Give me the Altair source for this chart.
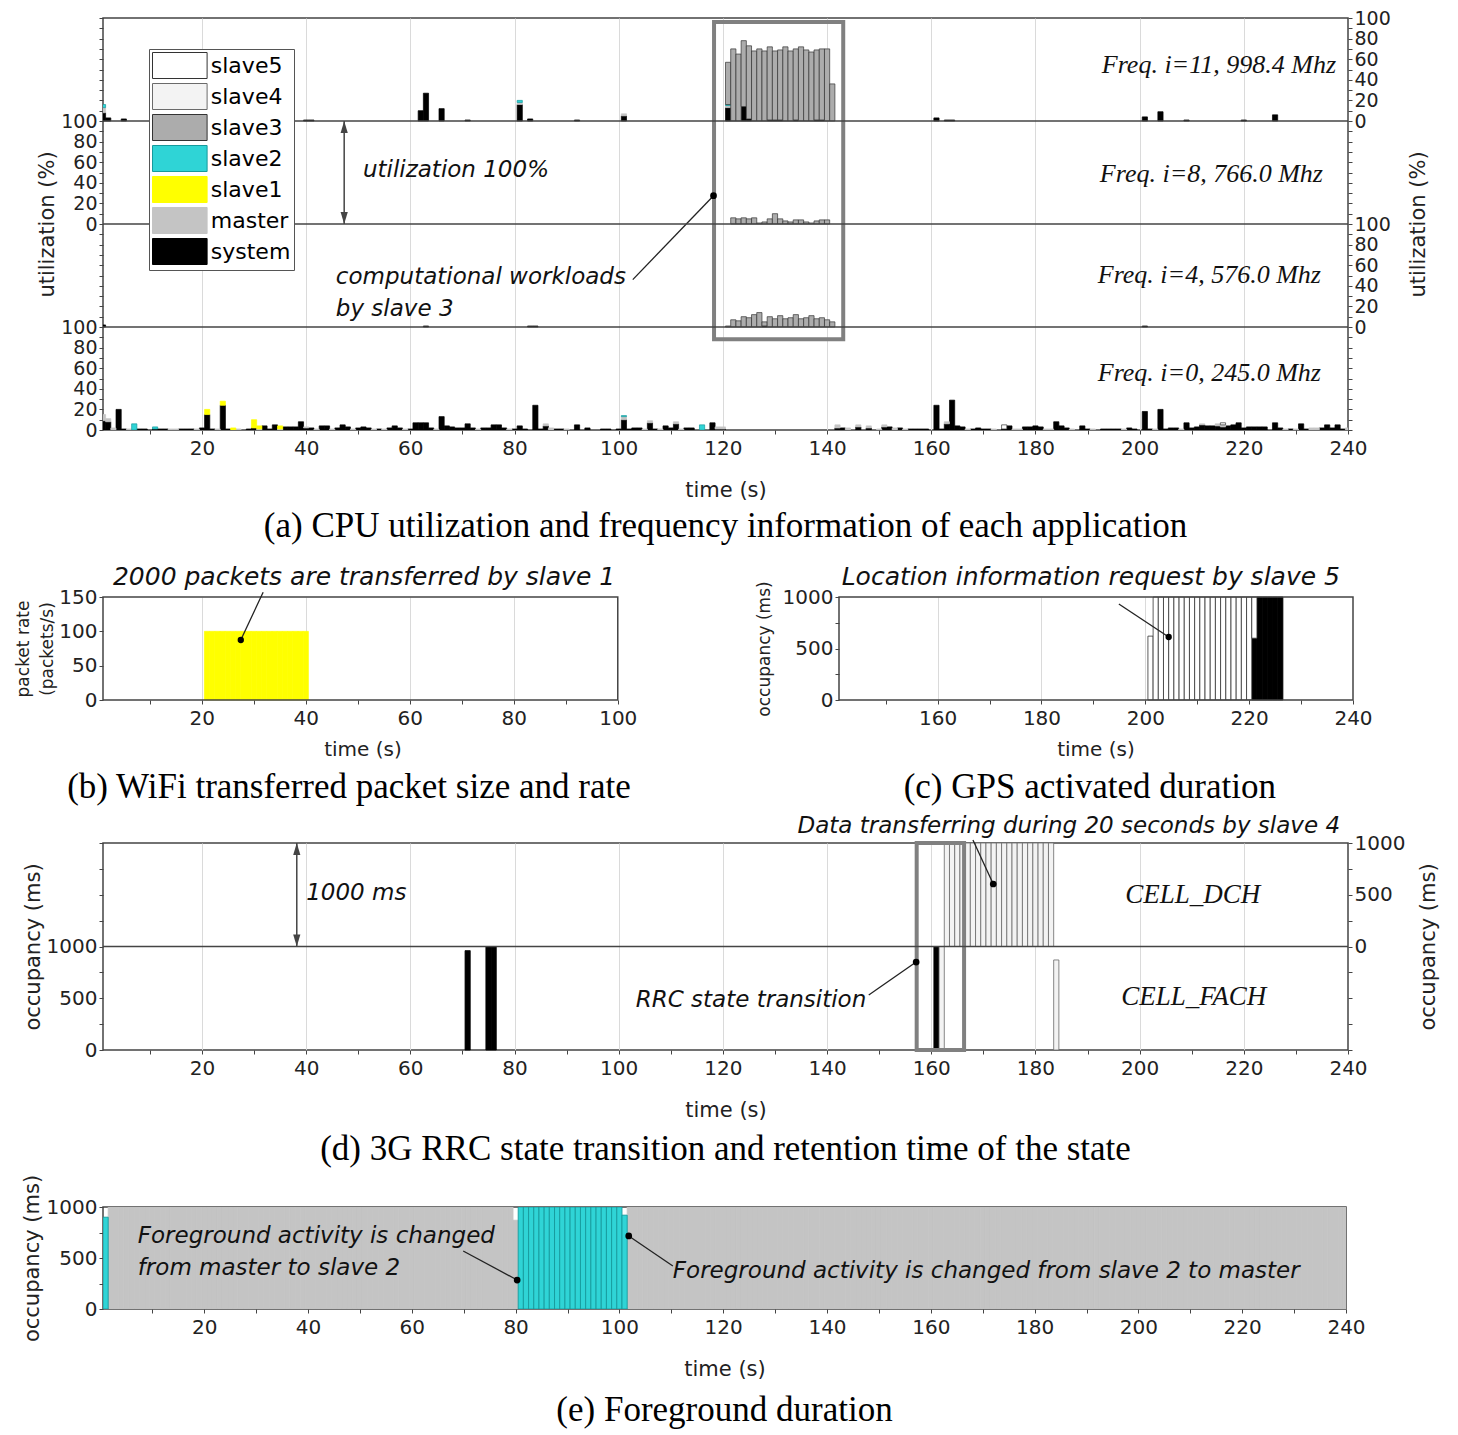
import altair as alt
import pandas as pd

FONT = "DejaVu Sans"
SERIF = "Liberation Serif"
INK = "#222222"
FRAME = "#444444"

SERIES = ["slave5", "slave4", "slave3", "slave2", "slave1", "master", "system"]
COLORS = ["#ffffff", "#f3f3f3", "#acacac", "#2fd4d6", "#ffff00", "#c4c4c4", "#000000"]
OUTLINES = ["#333333", "#6a6a6a", "#333333", "#169a9c", "#ffff00", "#c4c4c4", "#000000"]
STACK_ORDER = ["system", "master", "slave1", "slave2", "slave3", "slave4", "slave5"]

# ---------------- (a) CPU utilization, [second, %] per application ----------------
F0_SYSTEM = [[1, 9], [2, 8], [4, 20], [5, 1], [8, 1], [9, 1], [11, 1], [12, 1], [13, 1], [16, 1], [17, 1],
             [18, 1], [20, 2], [21, 15], [22, 1], [24, 24], [25, 1], [29, 1], [30, 2], [32, 4], [33, 1],
             [34, 5], [36, 3], [37, 3], [38, 3], [39, 8], [40, 2], [41, 2], [43, 4], [44, 4], [46, 2],
             [47, 5], [48, 3], [50, 2], [51, 3], [52, 2], [54, 1], [56, 2], [57, 4], [58, 2], [60, 1],
             [61, 7], [62, 7], [63, 7], [64, 2], [66, 13], [67, 4], [68, 3], [69, 2], [70, 2], [71, 6],
             [72, 2], [74, 2], [75, 2], [76, 5], [77, 5], [78, 2], [80, 1], [81, 4], [82, 1], [84, 24],
             [85, 1], [86, 4], [88, 1], [89, 1], [92, 5], [94, 2], [97, 1], [98, 1], [100, 1], [101, 10],
             [102, 1], [103, 2], [104, 2], [106, 7], [107, 1], [109, 4], [110, 2], [111, 6], [113, 2],
             [114, 2], [118, 7], [119, 1], [120, 1], [142, 2], [143, 2], [146, 3], [148, 2], [151, 3],
             [152, 3], [154, 2], [156, 1], [157, 1], [158, 1], [159, 1], [161, 24], [162, 1], [163, 6],
             [164, 29], [165, 4], [166, 3], [168, 1], [169, 2], [170, 1], [171, 1], [174, 1], [175, 4],
             [178, 3], [179, 3], [180, 4], [181, 3], [184, 8], [185, 4], [186, 2], [189, 4], [190, 1],
             [193, 1], [194, 1], [195, 1], [196, 1], [198, 2], [199, 1], [201, 18], [202, 1], [204, 20],
             [205, 1], [206, 2], [207, 2], [209, 7], [210, 2], [211, 3], [212, 5], [213, 4], [214, 4],
             [215, 4], [216, 3], [217, 4], [218, 5], [219, 7], [220, 2], [221, 3], [222, 3], [223, 3],
             [224, 3], [226, 7], [227, 2], [229, 1], [231, 6], [232, 1], [235, 2], [236, 5], [237, 2],
             [238, 5], [239, 1]]
F0_MASTER = [[1, 6], [2, 3], [3, 2], [6, 1], [14, 1], [15, 1], [19, 1], [23, 1], [27, 1], [31, 1], [35, 1],
             [40, 1], [42, 1], [45, 1], [49, 1], [53, 1], [55, 1], [59, 1], [65, 1], [73, 1], [79, 1],
             [86, 2], [87, 2], [90, 1], [101, 3], [105, 1], [106, 2], [108, 1], [111, 2], [112, 1], [119, 2],
             [120, 2], [142, 3], [144, 2], [146, 2], [148, 2], [150, 1], [151, 2], [153, 2], [155, 1],
             [163, 2], [167, 1], [172, 1], [176, 1], [177, 1], [182, 1], [183, 1], [187, 1], [191, 1],
             [197, 1], [203, 1], [208, 1], [212, 1], [215, 2], [216, 2], [228, 1], [230, 1], [233, 2],
             [234, 2], [240, 2]]
F0_SLAVE1 = [[21, 5], [24, 4], [26, 2], [30, 8], [31, 3], [35, 3]]
F0_SLAVE2 = [[7, 6], [11, 2], [101, 1], [116, 5]]
F0_SLAVE5 = [[174, 4], [216, 2]]

F4_SYSTEM = [[1, 2], [63, 1], [83, 1], [84, 1], [128, 1], [201, 1]]
F4_SLAVE3 = [[121, 1], [122, 7], [123, 6], [124, 10], [125, 9], [126, 12], [127, 14], [128, 4], [129, 10],
             [130, 8], [131, 11], [132, 8], [133, 9], [134, 12], [135, 8], [136, 9], [137, 11], [138, 8],
             [139, 9], [140, 7], [141, 5]]

F8_SLAVE3 = [[122, 6], [123, 5], [124, 6], [125, 5], [126, 6], [127, 1], [128, 2], [129, 5], [130, 10],
             [131, 5], [132, 3], [133, 2], [134, 4], [135, 4], [136, 2], [137, 1], [138, 3], [139, 4],
             [140, 4]]

F11_SYSTEM = [[1, 8], [2, 3], [5, 2], [40, 1], [41, 1], [62, 10], [63, 27], [66, 12], [71, 1], [81, 16],
              [83, 2], [92, 1], [101, 5], [121, 13], [124, 14], [125, 2], [129, 1], [130, 1], [131, 1],
              [134, 1], [138, 1], [139, 1], [161, 3], [163, 1], [164, 1], [201, 4], [204, 9], [209, 1],
              [220, 1], [226, 6]]
F11_MASTER = [[1, 5], [81, 2], [101, 2], [121, 2]]
F11_SLAVE2 = [[1, 3], [81, 2], [121, 1]]
F11_SLAVE3 = [[121, 41], [122, 70], [123, 65], [124, 64], [125, 71], [126, 68], [127, 70], [128, 68],
              [129, 71], [130, 67], [131, 68], [132, 72], [133, 68], [134, 69], [135, 72], [136, 69],
              [137, 67], [138, 68], [139, 69], [140, 70], [141, 36]]

FREQ_LABELS = ["Freq. i=0, 245.0 Mhz", "Freq. i=4, 576.0 Mhz", "Freq. i=8, 766.0 Mhz", "Freq. i=11, 998.4 Mhz"]

# ---------------- (b) WiFi, (c) GPS, (d) 3G RRC, (e) foreground: [app, first s, last s, value] ----------------
WIFI = [["slave1", 21, 40, 100]]
GPS = [["slave5", 201, 201, 620], ["slave5", 202, 220, 1000], ["system", 221, 221, 600],
       ["slave5", 221, 221, 400], ["system", 222, 226, 1000]]
RRC_FACH = [["system", 71, 71, 960], ["system", 75, 76, 1000], ["system", 161, 161, 1000],
            ["slave4", 162, 162, 1000], ["slave4", 184, 184, 870]]
RRC_DCH = [["slave4", 163, 183, 1000]]
FOREGROUND = [["slave2", 1, 1, 900], ["master", 2, 79, 1000], ["master", 80, 80, 870],
              ["slave2", 81, 100, 1000], ["slave2", 101, 101, 920], ["master", 102, 240, 1000]]


def expand(segments):
    out = {}
    for s, a, b, v in segments:
        out.setdefault(s, [])
        for t in range(a, b + 1):
            out[s].append([t, v])
    return out


def stacked(series_dict, offset=0):
    rows, top = [], {}
    for s in STACK_ORDER:
        for t, v in series_dict.get(s, []):
            b = top.get(t, 0)
            rows.append({"t0": t - 0.5, "t1": t + 0.5, "y0": offset + b, "y1": offset + b + v, "series": s})
            top[t] = b + v
    return rows


def tdf(rows):
    return pd.DataFrame(rows, columns=["text", "x", "y"])


COLOR_SCALE = alt.Scale(domain=SERIES, range=COLORS)
STROKE = alt.Stroke("series:N", scale=alt.Scale(domain=SERIES, range=OUTLINES), legend=None)


def q(field, scale, axis):
    return {"field": field, "type": "quantitative", "scale": scale, "axis": axis}


# ======================= panel (a) =======================
A_W, A_H = 1245, 412
XS_A = alt.Scale(domain=[1, 240], nice=False, zero=False)
YS_A = alt.Scale(domain=[0, 400], nice=False, zero=False)
X_TICKS = list(range(10, 241, 10))


def x_axis(values, grid_test, title="time (s)", **kw):
    return alt.Axis(values=values, labelExpr="datum.value % 20 == 0 ? datum.value : ''", title=title,
                    grid=True, gridColor="#dadada",
                    gridOpacity={"condition": {"test": grid_test, "value": 1}, "value": 0},
                    domain=False, tickSize=4, labelPadding=4, titlePadding=21, orient="bottom", **kw)


AX_A_X = x_axis(X_TICKS, "datum.value % 20 == 0 && datum.value < 240")
AX_A_L = alt.Axis(values=list(range(0, 401, 10)), orient="left", title="utilization (%)", domain=False,
                  tickSize=4, labelPadding=2, titlePadding=3, grid=False, labelFontSize=19,
                  labelExpr="(datum.value <= 100 && datum.value % 20 == 0) ? datum.value : "
                            "((datum.value >= 200 && datum.value <= 300 && datum.value % 20 == 0) ? datum.value - 200 : '')")
AX_A_R = alt.Axis(values=list(range(0, 401, 10)), orient="right", title="utilization (%)", domain=False,
                  tickSize=4, labelPadding=2, titlePadding=38, titleAngle=-90, grid=False, labelFontSize=19,
                  labelExpr="(datum.value >= 100 && datum.value <= 200 && datum.value % 20 == 0) ? datum.value - 100 : "
                            "((datum.value >= 300 && datum.value % 20 == 0) ? datum.value - 300 : '')")

band_rows = []
for base, series in [(0, {"system": F0_SYSTEM, "master": F0_MASTER, "slave1": F0_SLAVE1,
                          "slave2": F0_SLAVE2, "slave5": F0_SLAVE5}),
                     (100, {"system": F4_SYSTEM, "slave3": F4_SLAVE3}),
                     (200, {"slave3": F8_SLAVE3}),
                     (300, {"system": F11_SYSTEM, "master": F11_MASTER, "slave2": F11_SLAVE2,
                            "slave3": F11_SLAVE3})]:
    band_rows += stacked(series, base)
df_a = pd.DataFrame(band_rows)

legend = alt.Legend(title=None, orient="none", legendX=46, legendY=31, symbolType="M-2.1,-1H2.1V1H-2.1Z",
                    symbolSize=676, symbolOffset=14.3, labelOffset=17.5, labelFont=FONT, labelFontSize=22,
                    labelColor="black", rowPadding=0, padding=3, strokeColor="#555", fillColor="white",
                    symbolStrokeColor="#555", symbolStrokeWidth=1, symbolOpacity=1)

a_bars = alt.Chart(df_a).mark_rect(clip=True, strokeWidth=0.7).encode(
    x=q("t0", XS_A, AX_A_X), x2="t1", y=q("y0", YS_A, AX_A_L), y2="y1",
    color=alt.Color("series:N", scale=COLOR_SCALE, legend=legend), stroke=STROKE)

A_BOX = pd.DataFrame({"x": [118.3], "x2": [143.1], "y": [88], "y2": [396]})
a_box = alt.Chart(A_BOX).mark_rect(fillOpacity=0, stroke="#808080", strokeWidth=4).encode(
    x=q("x", XS_A, AX_A_X), x2="x2", y=q("y", YS_A, AX_A_L), y2="y2")

A_ARROW = pd.DataFrame({"x": [47.3], "y": [200], "y2": [300]})
a_arrow = alt.Chart(A_ARROW).mark_rule(color="#444", strokeWidth=1.5).encode(
    x=q("x", XS_A, AX_A_X), y=q("y", YS_A, AX_A_L), y2="y2")
a_head_up = alt.Chart(A_ARROW).mark_point(shape="M0,-1L-0.6,1L0.6,1Z", filled=True, size=144, color="#444",
                                          opacity=1, yOffset=6).encode(
    x=q("x", XS_A, AX_A_X), y=q("y2", YS_A, AX_A_L))
a_head_dn = alt.Chart(A_ARROW).mark_point(shape="M0,1L-0.6,-1L0.6,-1Z", filled=True, size=144, color="#444",
                                          opacity=1, yOffset=-6).encode(
    x=q("x", XS_A, AX_A_X), y=q("y", YS_A, AX_A_L))

A_LEADER = pd.DataFrame({"x": [102.7], "y": [146], "x2": [118.2], "y2": [227.5]})
a_leader = alt.Chart(A_LEADER).mark_rule(color="#222", strokeWidth=1.3).encode(
    x=q("x", XS_A, AX_A_X), y=q("y", YS_A, AX_A_L), x2="x2", y2="y2")
a_dot = alt.Chart(A_LEADER).mark_point(filled=True, size=45, color="black", opacity=1).encode(
    x=q("x2", XS_A, AX_A_X), y=q("y2", YS_A, AX_A_L))

A_NOTES = tdf([["utilization 100%", 50.9, 252], ["computational workloads", 45.7, 148.5],
               ["by slave 3", 45.7, 117.5]])
a_notes = alt.Chart(A_NOTES).mark_text(font=FONT, fontStyle="italic", fontSize=23, align="left",
                                       baseline="middle", color="#111").encode(
    x=q("x", XS_A, AX_A_X), y=q("y", YS_A, AX_A_L), text="text:N")
A_FREQ = tdf([[FREQ_LABELS[3], 237.7, 354], [FREQ_LABELS[2], 235.2, 248.5],
              [FREQ_LABELS[1], 234.8, 150.5], [FREQ_LABELS[0], 234.8, 55.3]])
a_freq = alt.Chart(A_FREQ).mark_text(font=SERIF, fontStyle="italic", fontSize=26, align="right",
                                     baseline="middle", color="#111").encode(
    x=q("x", XS_A, AX_A_X), y=q("y", YS_A, AX_A_L), text="text:N")

A_SEPARATORS = pd.DataFrame({"y": [100, 200, 300]})
a_sep = alt.Chart(A_SEPARATORS).mark_rule(color=FRAME, strokeWidth=1.5).encode(y=q("y", YS_A, AX_A_R))

panel_a = alt.layer(
    alt.layer(a_bars, a_box, a_arrow, a_head_up, a_head_dn, a_leader, a_dot, a_notes, a_freq),
    a_sep
).resolve_scale(y="independent").properties(
    width=A_W, height=A_H,
    title=alt.TitleParams("(a) CPU utilization and frequency information of each application", orient="bottom",
                          anchor="middle", font=SERIF, fontSize=35, fontWeight="normal", color="black", offset=9))

# ======================= panels (b) and (c) =======================
BC_W, BC_H = 1250, 103
XS_B = alt.Scale(domain=[1, 241.4], nice=False, zero=False)
YS_B = alt.Scale(domain=[0, 150], nice=False, zero=False)
XS_C = alt.Scale(domain=[-0.76, 240], nice=False, zero=False)
YS_C = alt.Scale(domain=[0, 1000], nice=False, zero=False)

AX_B_X = x_axis(list(range(10, 101, 10)), "datum.value % 20 == 0 && datum.value < 100", title=None)
AX_B_Y = alt.Axis(values=[0, 50, 100, 150], orient="left", title=["packet rate", "(packets/s)"], domain=False,
                  tickSize=4, labelPadding=2, titlePadding=2, titleFontSize=17, titleLineHeight=24, grid=False)
AX_C_X = x_axis(list(range(150, 241, 10)), "datum.value % 20 == 0 && datum.value < 240", title=None)
AX_C_Y = alt.Axis(values=[0, 250, 500, 750, 1000], orient="left", offset=-736, title="occupancy (ms)",
                  labelExpr="datum.value % 500 == 0 ? datum.value : ''", domain=False, tickSize=4,
                  labelPadding=2, titlePadding=9, titleFontSize=17, grid=False)

df_b = pd.DataFrame(stacked(expand(WIFI)))
b_bars = alt.Chart(df_b).mark_rect(strokeWidth=0.7).encode(
    x=q("t0", XS_B, AX_B_X), x2="t1", y=q("y0", YS_B, AX_B_Y), y2="y1",
    color=alt.Color("series:N", scale=COLOR_SCALE, legend=None), stroke=STROKE)
B_FRAME = pd.DataFrame({"x": [1], "x2": [100], "y": [0], "y2": [150]})
b_frame = alt.Chart(B_FRAME).mark_rect(fillOpacity=0, stroke=FRAME, strokeWidth=1.5).encode(
    x=q("x", XS_B, AX_B_X), x2="x2", y=q("y", YS_B, AX_B_Y), y2="y2")
B_LEADER = pd.DataFrame({"x": [31.8], "y": [157], "x2": [27.5], "y2": [87.4]})
b_leader = alt.Chart(B_LEADER).mark_rule(color="#222", strokeWidth=1.3).encode(
    x=q("x", XS_B, AX_B_X), y=q("y", YS_B, AX_B_Y), x2="x2", y2="y2")
b_dot = alt.Chart(B_LEADER).mark_point(filled=True, size=40, color="black", opacity=1).encode(
    x=q("x2", XS_B, AX_B_X), y=q("y2", YS_B, AX_B_Y))
b_note = alt.Chart(tdf([["2000 packets are transferred by slave 1", 51.2, 179]])).mark_text(
    font=FONT, fontStyle="italic", fontSize=25, align="center", baseline="middle", color="#111").encode(
    x=q("x", XS_B, AX_B_X), y=q("y", YS_B, AX_B_Y), text="text:N")
b_xt = alt.Chart(tdf([["time (s)", 51, -72.8]])).mark_text(
    font=FONT, fontSize=20, align="center", baseline="middle", color=INK).encode(
    x=q("x", XS_B, AX_B_X), y=q("y", YS_B, AX_B_Y), text="text:N")
b_cap = alt.Chart(tdf([["(b) WiFi transferred packet size and rate", 48.3, -126.7]])).mark_text(
    font=SERIF, fontSize=35, align="center", baseline="middle", color="black").encode(
    x=q("x", XS_B, AX_B_X), y=q("y", YS_B, AX_B_Y), text="text:N")

df_c = pd.DataFrame(stacked(expand(GPS)))
c_bars = alt.Chart(df_c).mark_rect(strokeWidth=0.8).encode(
    x=q("t0", XS_C, AX_C_X), x2="t1", y=q("y0", YS_C, AX_C_Y), y2="y1",
    color=alt.Color("series:N", scale=COLOR_SCALE, legend=None), stroke=STROKE)
C_FRAME = pd.DataFrame({"x": [141], "x2": [240], "y": [0], "y2": [1000]})
c_frame = alt.Chart(C_FRAME).mark_rect(fillOpacity=0, stroke=FRAME, strokeWidth=1.5).encode(
    x=q("x", XS_C, AX_C_X), x2="x2", y=q("y", YS_C, AX_C_Y), y2="y2")
C_LEADER = pd.DataFrame({"x": [194.9], "y": [932], "x2": [204.5], "y2": [612]})
c_leader = alt.Chart(C_LEADER).mark_rule(color="#222", strokeWidth=1.3).encode(
    x=q("x", XS_C, AX_C_X), y=q("y", YS_C, AX_C_Y), x2="x2", y2="y2")
c_dot = alt.Chart(C_LEADER).mark_point(filled=True, size=40, color="black", opacity=1).encode(
    x=q("x2", XS_C, AX_C_X), y=q("y2", YS_C, AX_C_Y))
c_note = alt.Chart(tdf([["Location information request by slave 5", 189.5, 1194]])).mark_text(
    font=FONT, fontStyle="italic", fontSize=25, align="center", baseline="middle", color="#111").encode(
    x=q("x", XS_C, AX_C_X), y=q("y", YS_C, AX_C_Y), text="text:N")
c_xt = alt.Chart(tdf([["time (s)", 190.5, -485]])).mark_text(
    font=FONT, fontSize=20, align="center", baseline="middle", color=INK).encode(
    x=q("x", XS_C, AX_C_X), y=q("y", YS_C, AX_C_Y), text="text:N")
c_cap = alt.Chart(tdf([["(c) GPS activated duration", 189.3, -845]])).mark_text(
    font=SERIF, fontSize=35, align="center", baseline="middle", color="black").encode(
    x=q("x", XS_C, AX_C_X), y=q("y", YS_C, AX_C_Y), text="text:N")

panel_bc = alt.layer(
    alt.layer(b_bars, b_frame, b_leader, b_dot, b_note, b_xt, b_cap),
    alt.layer(c_bars, c_frame, c_leader, c_dot, c_note, c_xt, c_cap)
).resolve_scale(x="independent", y="independent").properties(
    width=BC_W, height=BC_H, view=alt.ViewBackground(stroke="transparent"))

# ======================= panel (d) =======================
D_W, D_H = 1245, 207
XS_D = alt.Scale(domain=[1, 240], nice=False, zero=False)
YS_D = alt.Scale(domain=[0, 2000], nice=False, zero=False)
AX_D_X = x_axis(X_TICKS, "datum.value % 20 == 0 && datum.value < 240")
AX_D_L = alt.Axis(values=list(range(0, 2001, 250)), orient="left", title="occupancy (ms)", domain=False,
                  tickSize=4, labelPadding=2, titlePadding=3, grid=False, titleFontSize=21,
                  labelExpr="(datum.value <= 1000 && datum.value % 500 == 0) ? datum.value : ''")
AX_D_R = alt.Axis(values=list(range(0, 2001, 250)), orient="right", title="occupancy (ms)", domain=False,
                  tickSize=4, labelPadding=2, titlePadding=34, titleAngle=-90, grid=False, titleFontSize=21,
                  labelExpr="(datum.value >= 1000 && datum.value % 500 == 0) ? datum.value - 1000 : ''")

df_d = pd.DataFrame(stacked(expand(RRC_FACH), 0) + stacked(expand(RRC_DCH), 1000))
d_bars = alt.Chart(df_d).mark_rect(strokeWidth=0.8).encode(
    x=q("t0", XS_D, AX_D_X), x2="t1", y=q("y0", YS_D, AX_D_L), y2="y1",
    color=alt.Color("series:N", scale=COLOR_SCALE, legend=None), stroke=STROKE)
D_BOX = pd.DataFrame({"x": [157.2], "x2": [166.3], "y": [0], "y2": [2000]})
d_box = alt.Chart(D_BOX).mark_rect(fillOpacity=0, stroke="#808080", strokeWidth=4).encode(
    x=q("x", XS_D, AX_D_X), x2="x2", y=q("y", YS_D, AX_D_L), y2="y2")
D_ARROW = pd.DataFrame({"x": [38.2], "y": [1000], "y2": [2000]})
d_arrow = alt.Chart(D_ARROW).mark_rule(color="#444", strokeWidth=1.5).encode(
    x=q("x", XS_D, AX_D_X), y=q("y", YS_D, AX_D_L), y2="y2")
d_head_up = alt.Chart(D_ARROW).mark_point(shape="M0,-1L-0.6,1L0.6,1Z", filled=True, size=144, color="#444",
                                          opacity=1, yOffset=6).encode(
    x=q("x", XS_D, AX_D_X), y=q("y2", YS_D, AX_D_L))
d_head_dn = alt.Chart(D_ARROW).mark_point(shape="M0,1L-0.6,-1L0.6,-1Z", filled=True, size=144, color="#444",
                                          opacity=1, yOffset=-6).encode(
    x=q("x", XS_D, AX_D_X), y=q("y", YS_D, AX_D_L))
D_LEADERS = pd.DataFrame({"x": [168.0, 148.0], "y": [2029, 531], "x2": [171.9, 157.1], "y2": [1604, 850]})
d_leader = alt.Chart(D_LEADERS).mark_rule(color="#222", strokeWidth=1.3).encode(
    x=q("x", XS_D, AX_D_X), y=q("y", YS_D, AX_D_L), x2="x2", y2="y2")
d_dot = alt.Chart(D_LEADERS).mark_point(filled=True, size=45, color="black", opacity=1).encode(
    x=q("x2", XS_D, AX_D_X), y=q("y2", YS_D, AX_D_L))
d_note_c = alt.Chart(tdf([["Data transferring during 20 seconds by slave 4", 186.4, 2164],
                          ["RRC state transition", 125.4, 483]])).mark_text(
    font=FONT, fontStyle="italic", fontSize=23, align="center", baseline="middle", color="#111").encode(
    x=q("x", XS_D, AX_D_X), y=q("y", YS_D, AX_D_L), text="text:N")
d_note_l = alt.Chart(tdf([["1000 ms", 40.0, 1517]])).mark_text(
    font=FONT, fontStyle="italic", fontSize=23, align="left", baseline="middle", color="#111").encode(
    x=q("x", XS_D, AX_D_X), y=q("y", YS_D, AX_D_L), text="text:N")
d_state = alt.Chart(tdf([["CELL_DCH", 210.2, 1498], ["CELL_FACH", 210.4, 512]])).mark_text(
    font=SERIF, fontStyle="italic", fontSize=27, align="center", baseline="middle", color="#111").encode(
    x=q("x", XS_D, AX_D_X), y=q("y", YS_D, AX_D_L), text="text:N")
d_sep = alt.Chart(pd.DataFrame({"y": [1000]})).mark_rule(color=FRAME, strokeWidth=1.5).encode(
    y=q("y", YS_D, AX_D_R))

panel_d = alt.layer(
    alt.layer(d_bars, d_box, d_arrow, d_head_up, d_head_dn, d_leader, d_dot, d_note_c, d_note_l, d_state),
    d_sep
).resolve_scale(y="independent").properties(
    width=D_W, height=D_H,
    title=alt.TitleParams("(d) 3G RRC state transition and retention time of the state", orient="bottom",
                          anchor="middle", font=SERIF, fontSize=35, fontWeight="normal", color="black", offset=12))

# ======================= panel (e) =======================
E_W, E_H = 1243, 102
XS_E = alt.Scale(domain=[0.5, 240], nice=False, zero=False)
YS_E = alt.Scale(domain=[0, 1000], nice=False, zero=False)
AX_E_X = x_axis(X_TICKS, "false")
AX_E_Y = alt.Axis(values=[0, 250, 500, 750, 1000], orient="left", title="occupancy (ms)", domain=False,
                  tickSize=4, labelPadding=2, titlePadding=4, grid=False,
                  labelExpr="datum.value % 500 == 0 ? datum.value : ''")

df_e = pd.DataFrame(stacked(expand(FOREGROUND)))
e_bars = alt.Chart(df_e).mark_rect(clip=True, strokeWidth=0.9).encode(
    x=q("t0", XS_E, AX_E_X), x2="t1", y=q("y0", YS_E, AX_E_Y), y2="y1",
    color=alt.Color("series:N", scale=COLOR_SCALE, legend=None), stroke=STROKE)
E_LEADERS = pd.DataFrame({"x": [69.9, 110.3], "y": [569, 422], "x2": [80.3, 101.8], "y2": [284, 716]})
e_leader = alt.Chart(E_LEADERS).mark_rule(color="#222", strokeWidth=1.3).encode(
    x=q("x", XS_E, AX_E_X), y=q("y", YS_E, AX_E_Y), x2="x2", y2="y2")
e_dot = alt.Chart(E_LEADERS).mark_point(filled=True, size=45, color="black", opacity=1).encode(
    x=q("x2", XS_E, AX_E_X), y=q("y2", YS_E, AX_E_Y))
e_note = alt.Chart(tdf([["Foreground activity is changed", 7.2, 716], ["from master to slave 2", 7.2, 402],
                        ["Foreground activity is changed from slave 2 to master", 110.3, 373]])).mark_text(
    font=FONT, fontStyle="italic", fontSize=23, align="left", baseline="middle", color="#111").encode(
    x=q("x", XS_E, AX_E_X), y=q("y", YS_E, AX_E_Y), text="text:N")

panel_e = alt.layer(e_bars, e_leader, e_dot, e_note).properties(
    width=E_W, height=E_H,
    title=alt.TitleParams("(e) Foreground duration", orient="bottom", anchor="middle", font=SERIF,
                          fontSize=35, fontWeight="normal", color="black", offset=14))


def gap(h):
    return alt.Chart(pd.DataFrame({"v": [0]})).mark_point(opacity=0).encode(
        x=alt.value(0), y=alt.value(0)).properties(width=10, height=h,
                                                   view=alt.ViewBackground(stroke="transparent"))


chart = alt.vconcat(panel_a, gap(167), panel_bc, gap(143), panel_d, gap(157), panel_e,
                    spacing=0, bounds="flush").properties(
    padding={"left": 6, "top": 0, "right": 4, "bottom": 4}, background="white"
).configure_view(stroke=FRAME, strokeWidth=1.5).configure_axis(
    labelFont=FONT, labelFontSize=20, labelColor=INK, titleFont=FONT, titleFontSize=21,
    titleFontWeight="normal", titleColor=INK, tickColor="#444", domainColor="#444",
    labelFlush=False, labelOverlap=False
)

chart.save("out.html", embed_options={"renderer": "svg", "actions": False})
